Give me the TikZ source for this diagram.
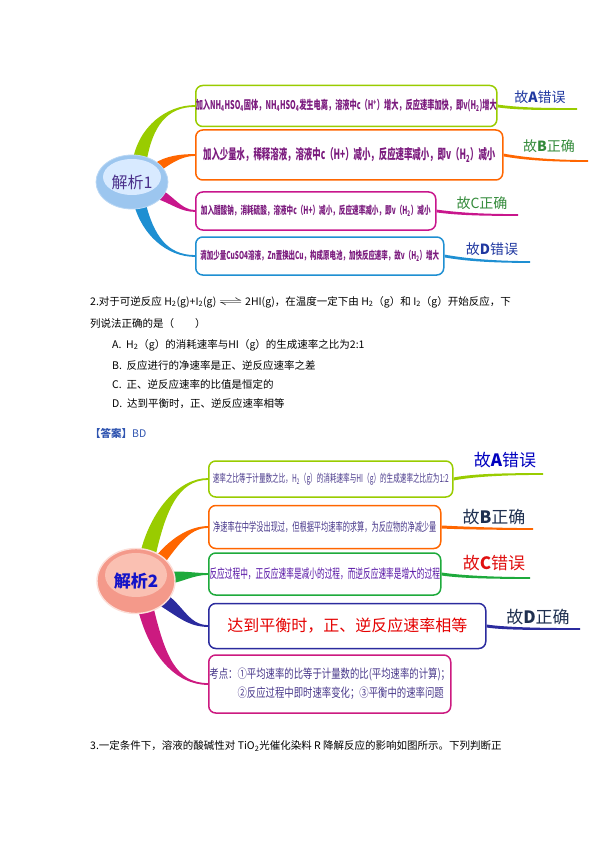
\documentclass[tikz,border=0pt]{standalone}
\usepackage{fontspec}
\usepackage{graphicx}
\setmainfont{Noto Sans CJK SC}
\newfontfamily\narrow[FakeStretch=0.6]{Noto Sans CJK SC}
\newfontfamily\semi[FakeStretch=0.75]{Noto Sans CJK SC}
\usetikzlibrary{calc,shapes.geometric,backgrounds}

\definecolor{mapgreen}{HTML}{99CC00}
\definecolor{maporange}{HTML}{FF6600}
\definecolor{mapmagenta}{HTML}{C8168C}
\definecolor{mapblue}{HTML}{1E8FD2}
\definecolor{mapleaf}{HTML}{1EAA3C}
\definecolor{mapnavy}{HTML}{2B2B9E}
\definecolor{mappink}{HTML}{CC1A80}
\definecolor{boxpurple}{HTML}{7B1B7E}
\definecolor{boxviolet}{HTML}{4A3A8C}
\definecolor{vblue}{HTML}{2038A0}
\definecolor{vgreen}{HTML}{338A3A}
\definecolor{vnavy}{HTML}{1F3050}
\definecolor{vred}{HTML}{E01010}
\definecolor{ansblue}{HTML}{2F54B0}
\definecolor{skytop}{HTML}{D8EAFF}
\definecolor{skybot}{HTML}{9CC6EF}
\definecolor{salmtop}{HTML}{FAC0B2}
\definecolor{salmbot}{HTML}{F4998A}
\definecolor{ell1text}{HTML}{4A2F8A}
\definecolor{ell2text}{HTML}{1414C8}

% tapered branch: colour, from, to, half width at start, control offsets
\newcommand\twig[6]{%
  \fill[#1] ($(#2)+(#4)$) .. controls +(#5) and +(#6) .. ($(#3)+(0,0.9)$)
    -- ($(#3)+(0,-0.9)$) .. controls +(#6) and +(#5) .. ($(#2)-(#4)$) -- cycle;}

\begin{document}
\begin{tikzpicture}[x=1pt,y=-1pt,
  box/.style={draw=#1,line width=1.5pt,rounded corners=7pt,fill=white,anchor=west,inner sep=0pt},
  hub/.style={ellipse,inner sep=0pt},
  verdict/.style={font=\fontsize{14}{16}\selectfont},
  bigverdict/.style={font=\fontsize{17}{19}\selectfont},
  textline/.style={anchor=west,inner sep=0pt,font=\fontsize{10.5}{12}\selectfont}]
\useasboundingbox (0,0) rectangle (595,842);

% first map
\node[hub,minimum width=72,minimum height=54,text=ell1text,
  font=\fontsize{16}{18}\selectfont] (ell1) at (132,182) {解析1};
\node[box=mapgreen,minimum width=297,minimum height=41,text=boxpurple,
  font=\narrow\bfseries\fontsize{12}{14}\selectfont] (a1) at (195,106)
  {加入NH\textsubscript{4}HSO\textsubscript{4}固体，NH\textsubscript{4}HSO\textsubscript{4}发生电离，溶液中c（H\textsuperscript{+}）增大，反应速率加快，即v(H\textsubscript{2})增大};
\node[box=maporange,minimum width=307,minimum height=50,text=boxpurple,
  font=\narrow\bfseries\fontsize{14}{16}\selectfont] (b1) at (195,155)
  {加入少量水，稀释溶液，溶液中c（H+）减小，反应速率减小，即v（H\textsubscript{2}）减小};
\node[box=mapmagenta,minimum width=240,minimum height=38,text=boxpurple,
  font=\narrow\bfseries\fontsize{11}{13}\selectfont] (c1) at (195,211)
  {加入醋酸钠，消耗硫酸，溶液中c（H+）减小，反应速率减小，即v（H\textsubscript{2}）减小};
\node[box=mapblue,minimum width=248,minimum height=38,text=boxpurple,
  font=\narrow\bfseries\fontsize{10.8}{13}\selectfont] (d1) at (195,256)
  {滴加少量CuSO4溶液，Zn置换出Cu，构成原电池，加快反应速率，故v（H\textsubscript{2}）增大};

\node[verdict,text=vblue] (va1) at (540,97) {故\textbf{A}错误};
\node[verdict,text=vgreen] (vb1) at (549,146) {故\textbf{B}正确};
\node[verdict,text=vgreen] (vc1) at (482,203) {故C正确};
\node[verdict,text=vblue] (vd1) at (492,249) {故\textbf{D}错误};
\coordinate (ua1) at (577,109);
\coordinate (ub1) at (588,161);
\coordinate (uc1) at (518,215);
\coordinate (ud1) at (530,262);

\begin{pgfonlayer}{background}
\twig{mapgreen}{$(ell1)!0.8!(ell1.70)$}{a1.west}{7,0}{6,-35}{-28,0}
\twig{maporange}{$(ell1)!0.8!(ell1.30)$}{b1.west}{1,5}{12,-8}{-15,0}
\twig{mapmagenta}{$(ell1)!0.8!(ell1.-25)$}{c1.west}{-1,5}{14,4}{-15,0}
\twig{mapblue}{$(ell1)!0.8!(ell1.-70)$}{d1.west}{-6,0}{8,32}{-28,0}
\filldraw[fill=skybot,draw=skybot!70!white,line width=0.8pt] (ell1) ellipse [x radius=36,y radius=27];
\fill[skytop] ($(ell1)+(0,-5)$) ellipse [x radius=29,y radius=18];
\end{pgfonlayer}
\twig{mapgreen}{a1.east}{ua1}{0,1.4}{22,3}{-35,0}
\twig{maporange}{b1.east}{ub1}{0,1.4}{22,4}{-35,0}
\twig{mapmagenta}{c1.east}{uc1}{0,1.4}{22,3}{-35,0}
\twig{mapblue}{d1.east}{ud1}{0,1.4}{22,4}{-35,0}

% question text
\node[textline] (q1) at (90,302) {2.对于可逆反应 H\textsubscript{2}(g)+I\textsubscript{2}(g)
  \scalebox{2.2}[1]{$\rightleftharpoons$} 2HI(g)，在温度一定下由 H\textsubscript{2}（g）和 I\textsubscript{2}（g）开始反应，下};
\node[textline] (q2) at (90,324) {列说法正确的是（\quad\quad）};
\node[textline] (oa) at (112,345) {A.\ \ H\textsubscript{2}（g）的消耗速率与HI（g）的生成速率之比为2:1};
\node[textline] (ob) at (112,366) {B.\ \ 反应进行的净速率是正、逆反应速率之差};
\node[textline] (oc) at (112,385) {C.\ \ 正、逆反应速率的比值是恒定的};
\node[textline] (od) at (112,404) {D.\ \ 达到平衡时，正、逆反应速率相等};
\node[textline,text=ansblue] (ans) at (90,433) {\textbf{【答案】}BD};

% second map
\node[hub,minimum width=78,minimum height=65,text=ell2text,
  font=\bfseries\fontsize{17}{19}\selectfont] (ell2) at (136,581) {解析2};
\node[box=mapgreen,minimum width=244,minimum height=36,text=boxviolet,
  font=\narrow\fontsize{11}{13}\selectfont] (a2) at (208,479)
  {速率之比等于计量数之比，H\textsubscript{2}（g）的消耗速率与HI（g）的生成速率之比应为1:2};
\node[box=maporange,minimum width=232,minimum height=43,text=boxviolet,
  font=\narrow\fontsize{12}{14}\selectfont] (b2) at (208,527)
  {净速率在中学没出现过，但根据平均速率的求算，为反应物的净减少量};
\node[box=mapleaf,minimum width=232,minimum height=42,text=boxpurple!70!blue,
  font=\narrow\fontsize{12.8}{15}\selectfont] (c2) at (208,574)
  {反应过程中，正反应速率是减小的过程，而逆反应速率是增大的过程};
\node[box=mapnavy,minimum width=277,minimum height=45,text=red!90!black,
  font=\fontsize{16}{18}\selectfont] (d2) at (208,626)
  {达到平衡时，正、逆反应速率相等};
\node[box=mappink,minimum width=242,minimum height=58,text=boxviolet,align=left,
  font=\semi\fontsize{12.5}{19}\selectfont] (e2) at (208,684)
  {考点：①平均速率的比等于计量数的比(平均速率的计算)；\\
   \phantom{考点：}②反应过程中即时速率变化；③平衡中的速率问题};

\node[bigverdict,text=blue!75!black] (va2) at (505,460) {故\textbf{A}错误};
\node[bigverdict,text=vnavy] (vb2) at (494,517) {故\textbf{B}正确};
\node[bigverdict,text=vred] (vc2) at (494,563) {故\textbf{C}错误};
\node[bigverdict,text=vnavy] (vd2) at (538,617) {故\textbf{D}正确};
\coordinate (ua2) at (543,474);
\coordinate (ub2) at (533,529);
\coordinate (uc2) at (530,578);
\coordinate (ud2) at (580,629);

\begin{pgfonlayer}{background}
\twig{mapgreen}{$(ell2)!0.8!(ell2.65)$}{a2.west}{8,0}{10,-45}{-30,0}
\twig{maporange}{$(ell2)!0.8!(ell2.40)$}{b2.west}{4,4}{14,-18}{-20,0}
\twig{mapleaf}{$(ell2)!0.8!(ell2.5)$}{c2.west}{0,6}{15,-2}{-15,0}
\twig{mapnavy}{$(ell2)!0.8!(ell2.-35)$}{d2.west}{-3,6}{20,12}{-20,0}
\twig{mappink}{$(ell2)!0.8!(ell2.-70)$}{e2.west}{-8,0}{12,50}{-32,0}
\filldraw[fill=salmbot,draw=salmtop!50!white,line width=1.4pt] (ell2) ellipse [x radius=39,y radius=32.5];
\fill[salmtop] ($(ell2)+(0,-6)$) ellipse [x radius=31,y radius=22];
\end{pgfonlayer}
\twig{mapgreen}{a2.east}{ua2}{0,1.5}{20,-4}{-35,0}
\twig{maporange}{b2.east}{ub2}{0,1.5}{20,1}{-35,0}
\twig{mapleaf}{c2.east}{uc2}{0,1.5}{20,3}{-35,0}
\twig{mapnavy}{d2.east}{ud2}{0,1.5}{20,3}{-35,0}

\node[textline] (q3) at (90,746) {3.一定条件下，溶液的酸碱性对 TiO\textsubscript{2}光催化染料 R 降解反应的影响如图所示。下列判断正};
\end{tikzpicture}
\end{document}
